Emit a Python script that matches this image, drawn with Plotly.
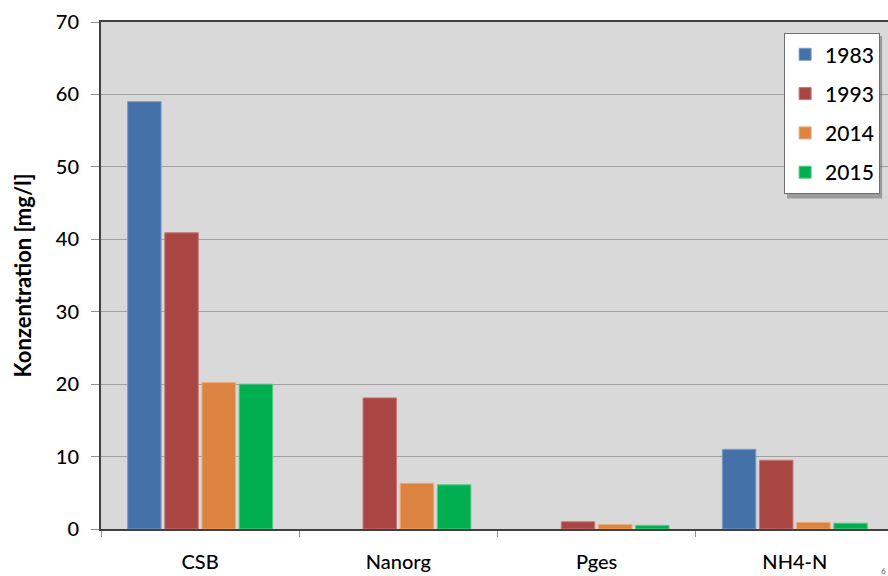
import plotly.graph_objects as go

categories = ["CSB", "Nanorg", "Pges", "NH4-N"]
years = ["1983", "1993", "2014", "2015"]
values_1983 = [59.0, None, None, 11.0]
values_1993 = [40.9, 18.1, 1.0, 9.5]
values_2014 = [20.2, 6.3, 0.6, 0.9]
values_2015 = [20.0, 6.1, 0.5, 0.8]
y_ticks = [0, 10, 20, 30, 40, 50, 60, 70]

series = [values_1983, values_1993, values_2014, values_2015]
colors = ["#4471A7", "#A94543", "#DC843F", "#00B050"]
edges = ["#7A9CC6", "#C77775", "#EBA874", "#55C885"]

fig = go.Figure()
for year, vals, col, edge in zip(years, series, colors, edges):
    fig.add_trace(go.Bar(
        name=year, x=categories, y=vals, legendgroup=year,
        marker=dict(color=col, line=dict(color=edge, width=1)),
    ))

font_family = "Lato, 'Open Sans', sans-serif"

fig.update_layout(
    width=888, height=576,
    margin=dict(l=101, r=0, t=22, b=47),
    paper_bgcolor="white",
    plot_bgcolor="#D9D9D9",
    barmode="group",
    bargap=0.25,
    bargroupgap=0.1,
    font=dict(family=font_family, size=18, color="black"),
    showlegend=True,
    legend=dict(
        x=0.868, y=0.978, xanchor="left", yanchor="top",
        bgcolor="white", bordercolor="#707070", borderwidth=1,
        font=dict(size=21, family=font_family, weight=500),
        tracegroupgap=9, itemwidth=30,
    ),
    xaxis=dict(
        range=[-0.5, 3.47],
        showline=True, linecolor="#404040", linewidth=2, mirror=True,
        ticks="outside", tickson="boundaries", ticklen=6, tickcolor="#909090",
        tickfont=dict(size=20, family=font_family, weight=500),
        ticklabelstandoff=14,
        showgrid=False,
    ),
    yaxis=dict(
        range=[0, 70],
        tickvals=y_ticks,
        showline=True, linecolor="#404040", linewidth=2,
        ticks="outside", ticklen=8, tickcolor="#909090",
        tickfont=dict(size=20, family=font_family, weight=500),
        ticklabelstandoff=8,
        showgrid=True, gridcolor="#A0A0A0", gridwidth=1,
        zeroline=False,
        title=dict(text="<b>Konzentration [mg/l]</b>", font=dict(size=22, family=font_family), standoff=18),
    ),
)

# drop shadow behind the legend box
fig.add_shape(type="rect", xref="paper", yref="paper",
              x0=0.8717, x1=0.9925, y0=0.652, y1=0.9724,
              fillcolor="rgba(80,80,80,0.45)", line=dict(width=0), layer="above")

fig.add_annotation(text="6", xref="paper", yref="paper", x=1.0, y=-0.07,
                   xanchor="right", yanchor="top", showarrow=False,
                   font=dict(size=8, color="#555555"))

fig.write_html("out.html")
